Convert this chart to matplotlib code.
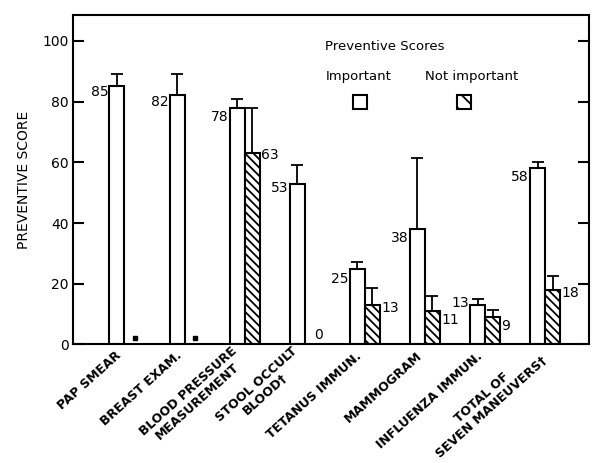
import numpy as np
import matplotlib
matplotlib.use("Agg")
import matplotlib.pyplot as plt
from matplotlib.patches import Rectangle

# values
categories = ["PAP SMEAR", "BREAST EXAM.", "BLOOD PRESSURE\nMEASUREMENT",
              "STOOL OCCULT\nBLOOD\u2020", "TETANUS IMMUN.", "MAMMOGRAM",
              "INFLUENZA IMMUN.", "TOTAL OF\nSEVEN MANEUVERS\u2020"]
important = [85, 82, 78, 53, 25, 38, 13, 58]
important_err = [4, 7, 3, 6, 2, 23.5, 2, 2]
not_important = [np.nan, np.nan, 63, 0, 13, 11, 9, 18]
not_important_err = [np.nan, np.nan, 15, 0, 5.5, 5, 2.5, 4.6]

# vertical nudges for the number labels (layout only)
left_nudge = [-2, -2, -3, -1.5, -3.5, -3, 0.8, -3]
right_nudge = [0, 0, -0.6, 3, -1, -3, -3, -1]

plt.rcParams['hatch.linewidth'] = 1.3
plt.rcParams['font.family'] = ['DejaVu Sans']

fig = plt.figure(figsize=(5.92, 4.63), dpi=100)
ax = fig.add_axes([0.1233, 0.256, 0.8716, 0.7116])

x = np.arange(len(categories))
w = 0.25
imp = np.array(important, dtype=float)
nimp = np.array(not_important, dtype=float)

ax.bar(x - w / 2, imp, w, color="white", edgecolor="black", linewidth=1.5)
ax.errorbar(x - w / 2, imp, yerr=[np.zeros(len(x)), important_err],
            fmt="none", ecolor="black", elinewidth=1.3, capsize=4, capthick=1.3)

has = ~np.isnan(nimp) & (nimp > 0)
ax.bar(x[has] + w / 2, nimp[has], w, color="white", edgecolor="black",
       hatch="\\\\\\\\", linewidth=1.5)
ax.errorbar(x[has] + w / 2, nimp[has],
            yerr=[np.zeros(has.sum()), np.array(not_important_err)[has]],
            fmt="none", ecolor="black", elinewidth=1.3, capsize=4, capthick=1.3)

# no score for the two screening items -> small dot near baseline
missing = np.isnan(nimp)
ax.plot(x[missing] + w / 2 + 0.05, np.full(missing.sum(), 2), "s",
        color="black", markersize=2.5)

# value labels
for xi, v, dy in zip(x, imp, left_nudge):
    ax.text(xi - w - 0.02, v + dy, f"{v:g}", ha="right", va="center", fontsize=10)
for xi, v, dy in zip(x, nimp, right_nudge):
    if np.isnan(v):
        continue
    if v == 0:
        ax.text(xi + w / 2 + 0.1, v + dy, f"{v:g}", ha="center", va="center", fontsize=10)
    else:
        ax.text(xi + w + 0.02, v + dy, f"{v:g}", ha="left", va="center", fontsize=10)

ax.set_xlim(-0.857, 7.73)
ax.set_ylim(0, 108.5)
ax.set_yticks([0, 20, 40, 60, 80, 100])
ax.tick_params(axis="y", direction="in", length=8, width=1.5, pad=3,
               labelsize=10, right=True)
ax.set_xticks(x - 0.08)
ax.set_xticklabels(categories, rotation=42, ha="right", va="center",
                   rotation_mode="anchor", fontsize=9, fontweight="bold",
                   multialignment="center", linespacing=1.05)
ax.tick_params(axis="x", length=0, pad=7)
for s in ax.spines.values():
    s.set_linewidth(1.5)

ax.set_ylabel("PREVENTIVE SCORE", fontsize=10, labelpad=8)

# legend block
ax.text(0.488, 0.903, "Preventive Scores", transform=ax.transAxes,
        fontsize=9.5, va="center", ha="left")
ax.text(0.490, 0.812, "Important", transform=ax.transAxes,
        fontsize=9.5, va="center", ha="left")
ax.text(0.682, 0.812, "Not important", transform=ax.transAxes,
        fontsize=9.5, va="center", ha="left")
ax.add_patch(Rectangle((0.542, 0.716), 0.028, 0.040, transform=ax.transAxes,
                       facecolor="white", edgecolor="black", linewidth=1.5))
ax.add_patch(Rectangle((0.744, 0.716), 0.028, 0.040, transform=ax.transAxes,
                       facecolor="white", edgecolor="black", linewidth=1.5,
                       hatch="\\\\"))

fig.savefig("out.png", dpi=100)
